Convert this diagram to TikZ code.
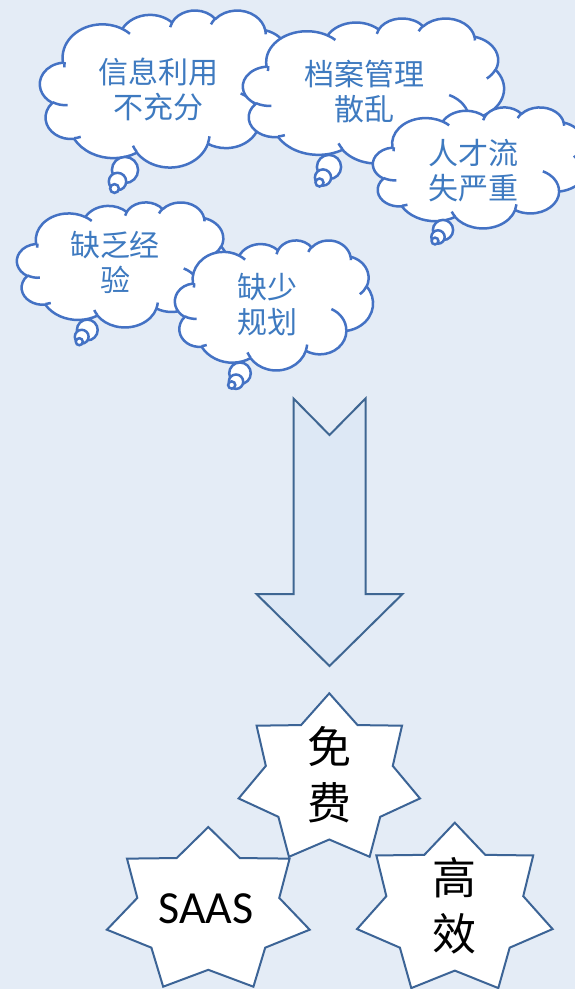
\documentclass[tikz,border=0pt]{standalone}
\usepackage{fontspec}
\newfontfamily\cjk{Noto Sans CJK SC}
\newfontfamily\saasfont{Carlito}
\definecolor{bgc}{RGB}{228,236,246}
\definecolor{cloudc}{RGB}{68,114,196}
\definecolor{cloudtxt}{RGB}{62,122,192}
\definecolor{arrowline}{RGB}{62,102,146}
\definecolor{arrowfill}{RGB}{221,232,245}
\definecolor{starline}{RGB}{60,100,150}
\tikzset{
  cloudline/.style={draw=cloudc, line width=2.5pt, line join=round},
  tailc/.style={draw=cloudc, line width=2.5pt, fill=white},
  cloudtext/.style={font=\cjk\fontsize{30}{35}\selectfont, text=cloudtxt, align=center, inner sep=0pt},
  starshape/.style={draw=starline, line width=2pt, fill=white, line join=miter},
  startext/.style={font=\cjk\fontsize{44}{56}\selectfont, text=black, align=center, inner sep=0pt},
  saastext/.style={font=\saasfont\fontsize{46}{56}\selectfont, text=black, inner sep=0pt},
  bigarrow/.style={draw=arrowline, line width=2pt, fill=arrowfill, line join=miter}
}
% cloud body in a 432 x 432 frame: #1 left, #2 top, #3 width, #4 height
\newcommand{\cloudat}[4]{%
  \pgfmathsetmacro{\cwx}{#3/432}%
  \pgfmathsetmacro{\cwy}{-#4/432}%
  \begin{scope}[shift={(#1,#2)}, x=\cwx pt, y=\cwy pt]
    \draw[cloudline, fill=white] (39.00,143.70)
      arc[start angle=-187.745, end angle=-59.64, x radius=67.53, y radius=91.90]
      arc[start angle=-152.03, end angle=-45.46, x radius=53.33, y radius=72.67]
      arc[start angle=-153.49, end angle=-37.34, x radius=43.65, y radius=59.45]
      arc[start angle=-139.71, end angle=-10.21, x radius=48.57, y radius=65.95]
      arc[start angle=-74.77, end angle=23.21, x radius=53.33, y radius=72.73]
      arc[start angle=-37.52, end angle=81.86, x radius=67.75, y radius=92.20]
      arc[start angle=0.46, end angle=121.97, x radius=57.85, y radius=78.67]
      arc[start angle=16.84, end angle=146.23, x radius=67.52, y radius=92.15]
      arc[start angle=58.98, end angle=150.18, x radius=77.20, y radius=105.43]
      arc[start angle=83.31, end angle=223.10, x radius=43.60, y radius=59.18]
      arc[start angle=120.35, end angle=264.11, x radius=43.45, y radius=59.45]
      -- cycle;
    \draw[cloudline]
      (46.93,261.77) arc[start angle=85.55, end angle=120.35, x radius=43.45, y radius=59.45]
      (69.28,348.99) arc[start angle=68.24, end angle=83.31, x radius=43.60, y radius=59.18]
      (164.78,390.90) arc[start angle=146.23, end angle=158.47, x radius=67.52, y radius=92.15]
      (288.27,347.51) arc[start angle=4.74, end angle=16.84, x radius=67.52, y radius=92.15]
      (341.29,229.54) arc[start angle=-64.03, end angle=0.46, x radius=57.85, y radius=78.67]
      (417.98,153.54) arc[start angle=23.21, end angle=49.65, x radius=53.33, y radius=72.73]
      (383.24,54.26) arc[start angle=-10.21, end angle=0.82, x radius=48.57, y radius=65.95]
      (290.78,39.52) arc[start angle=-156.30, end angle=-139.71, x radius=48.57, y radius=65.95]
      (221.41,47.20) arc[start angle=-167.72, end angle=-153.49, x radius=43.65, y radius=59.45]
      (140.00,51.92) arc[start angle=-59.64, end angle=-45.74, x radius=67.53, y radius=91.90]
      (41.27,157.89) arc[start angle=-181.12, end angle=-172.17, x radius=67.53, y radius=91.90];
  \end{scope}}
% seven-pointed star: centre #1,#2, radii #3,#4
\newcommand{\sevenstar}[4]{%
  \draw[starshape] plot[variable=\k, samples at={0,...,13}]
    ({#1+#3*(1-0.3*mod(\k,2))*cos(-90+\k*360/14)},
     {#2+#4*(1-0.3*mod(\k,2))*sin(-90+\k*360/14)}) -- cycle;}
\begin{document}
\begin{tikzpicture}[x=1pt, y=-1pt]
  \useasboundingbox (0,0) rectangle (575,989);
  \fill[bgc] (0,0) rectangle (575,989);

  % cloud 1
  \cloudat{40}{10}{254}{157}
  \draw[tailc] (125,170) circle[radius=13.1];
  \draw[tailc] (117.5,181.5) circle[radius=8.7];
  \draw[tailc] (114.5,188.5) circle[radius=4.4];
  \node[cloudtext] (t1) at (158,89.5) {信息利用\\不充分};

  % cloud 2
  \cloudat{243}{18}{261}{145}
  \draw[tailc] (329,167) circle[radius=12.1];
  \draw[tailc] (323,177.5) circle[radius=8.1];
  \draw[tailc] (319.5,182.5) circle[radius=4.0];
  \node[cloudtext] (t2) at (364,91.5) {档案管理\\散乱};

  % cloud 3
  \cloudat{373}{107}{215}{121}
  \draw[tailc] (443,230) circle[radius=10.1];
  \draw[tailc] (438,237) circle[radius=6.7];
  \draw[tailc] (435,241) circle[radius=3.4];
  \node[cloudtext] (t3) at (473,170.5) {人才流\\失严重};

  % cloud 4
  \cloudat{17}{202}{211}{125}
  \draw[tailc] (87.3,330) circle[radius=10.4];
  \draw[tailc] (81.7,336.7) circle[radius=6.9];
  \draw[tailc] (79.3,341.7) circle[radius=3.5];
  \node[cloudtext] (t4) at (115,262.5) {缺乏经\\验};

  % cloud 5
  \cloudat{175}{240}{198}{130}
  \draw[tailc] (240,373.3) circle[radius=10.8];
  \draw[tailc] (236,381.7) circle[radius=7.2];
  \draw[tailc] (231.7,385) circle[radius=3.6];
  \node[cloudtext] (t5) at (267,305) {缺少\\规划};

  % big arrow
  \draw[bigarrow] (293.5,398.5) -- (329.5,435) -- (365.5,398.5) -- (365.5,594)
    -- (402.5,594) -- (329.5,666) -- (256.5,594) -- (293.5,594) -- cycle;

  % stars
  \sevenstar{329.3}{779.3}{93}{86}
  \node[startext] (mf) at (329,775) {免\\费};
  \sevenstar{208.3}{911}{104}{84}
  \node[saastext] (saas) at (206,909) {SAAS};
  \sevenstar{454.8}{909.7}{100.3}{87}
  \node[startext] (gx) at (454,905.5) {高\\效};
\end{tikzpicture}
\end{document}
